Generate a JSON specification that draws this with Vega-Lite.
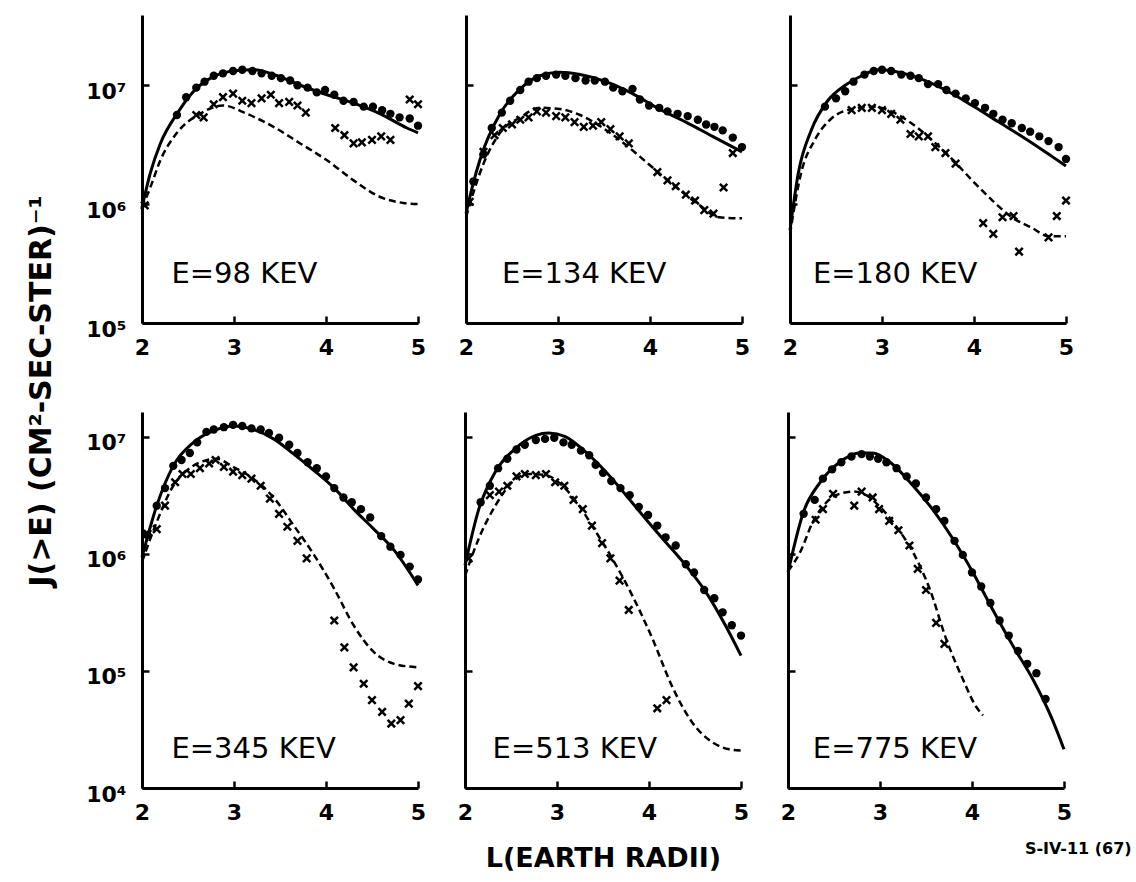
{
"$schema":"https://vega.github.io/schema/vega-lite/v6.json",
"background":"white",
"padding":{"left":26,"top":15,"right":5,"bottom":5},
"config":{"view":{"stroke":null},"axis":{"grid":false}},
"title":{"text":"J(>E) (CM²-SEC-STER)⁻¹","orient":"left","anchor":"middle","font":"DejaVu Sans","fontSize":30,"fontWeight":"bold","color":"black","offset":29,"dx":52},
"data":{"values":[
{"p":"98","s":"solid","L":2.0,"J":9.33e5},{"p":"98","s":"solid","L":2.09,"J":1.82e6},{"p":"98","s":"solid","L":2.2,"J":3.24e6},{"p":"98","s":"solid","L":2.38,"J":5.75e6},{"p":"98","s":"solid","L":2.55,"J":8.71e6},{"p":"98","s":"solid","L":2.77,"J":1.175e7},{"p":"98","s":"solid","L":2.99,"J":1.318e7},{"p":"98","s":"solid","L":3.21,"J":1.349e7},{"p":"98","s":"solid","L":3.47,"J":1.202e7},{"p":"98","s":"solid","L":3.72,"J":1.0e7},{"p":"98","s":"solid","L":4.01,"J":8.32e6},{"p":"98","s":"solid","L":4.3,"J":7.08e6},{"p":"98","s":"solid","L":4.59,"J":5.75e6},{"p":"98","s":"solid","L":4.88,"J":4.37e6},{"p":"98","s":"solid","L":5.0,"J":3.98e6},
{"p":"98","s":"dash","L":2.0,"J":9.33e5},{"p":"98","s":"dash","L":2.09,"J":1.38e6},{"p":"98","s":"dash","L":2.2,"J":2.34e6},{"p":"98","s":"dash","L":2.38,"J":3.98e6},{"p":"98","s":"dash","L":2.63,"J":5.75e6},{"p":"98","s":"dash","L":2.88,"J":6.76e6},{"p":"98","s":"dash","L":3.14,"J":5.75e6},{"p":"98","s":"dash","L":3.43,"J":4.47e6},{"p":"98","s":"dash","L":3.72,"J":3.24e6},{"p":"98","s":"dash","L":4.01,"J":2.34e6},{"p":"98","s":"dash","L":4.3,"J":1.585e6},{"p":"98","s":"dash","L":4.59,"J":1.148e6},{"p":"98","s":"dash","L":4.84,"J":1.023e6},{"p":"98","s":"dash","L":5.0,"J":1.0e6},
{"p":"98","s":"dot","L":2.38,"J":5.62e6},{"p":"98","s":"dot","L":2.48,"J":7.94e6},{"p":"98","s":"dot","L":2.59,"J":9.55e6},{"p":"98","s":"dot","L":2.68,"J":1.072e7},{"p":"98","s":"dot","L":2.78,"J":1.202e7},{"p":"98","s":"dot","L":2.88,"J":1.259e7},{"p":"98","s":"dot","L":2.99,"J":1.318e7},{"p":"98","s":"dot","L":3.09,"J":1.349e7},{"p":"98","s":"dot","L":3.2,"J":1.318e7},{"p":"98","s":"dot","L":3.3,"J":1.259e7},{"p":"98","s":"dot","L":3.41,"J":1.202e7},{"p":"98","s":"dot","L":3.51,"J":1.148e7},{"p":"98","s":"dot","L":3.61,"J":1.096e7},{"p":"98","s":"dot","L":3.69,"J":1.0e7},{"p":"98","s":"dot","L":3.8,"J":9.55e6},{"p":"98","s":"dot","L":3.9,"J":8.71e6},{"p":"98","s":"dot","L":3.99,"J":9.12e6},{"p":"98","s":"dot","L":4.09,"J":8.32e6},{"p":"98","s":"dot","L":4.19,"J":7.41e6},{"p":"98","s":"dot","L":4.3,"J":7.24e6},{"p":"98","s":"dot","L":4.41,"J":6.61e6},{"p":"98","s":"dot","L":4.51,"J":6.61e6},{"p":"98","s":"dot","L":4.61,"J":6.17e6},{"p":"98","s":"dot","L":4.7,"J":5.75e6},{"p":"98","s":"dot","L":4.8,"J":5.37e6},{"p":"98","s":"dot","L":4.91,"J":5.25e6},{"p":"98","s":"dot","L":5.0,"J":4.57e6},
{"p":"98","s":"x","L":2.03,"J":9.77e5},{"p":"98","s":"x","L":2.59,"J":5.62e6},{"p":"98","s":"x","L":2.67,"J":5.37e6},{"p":"98","s":"x","L":2.78,"J":6.92e6},{"p":"98","s":"x","L":2.88,"J":7.94e6},{"p":"98","s":"x","L":2.99,"J":8.51e6},{"p":"98","s":"x","L":3.09,"J":7.41e6},{"p":"98","s":"x","L":3.19,"J":7.08e6},{"p":"98","s":"x","L":3.3,"J":7.76e6},{"p":"98","s":"x","L":3.4,"J":8.32e6},{"p":"98","s":"x","L":3.49,"J":7.08e6},{"p":"98","s":"x","L":3.6,"J":7.24e6},{"p":"98","s":"x","L":3.69,"J":6.76e6},{"p":"98","s":"x","L":3.78,"J":5.89e6},{"p":"98","s":"x","L":4.1,"J":4.37e6},{"p":"98","s":"x","L":4.2,"J":3.8e6},{"p":"98","s":"x","L":4.3,"J":3.24e6},{"p":"98","s":"x","L":4.39,"J":3.31e6},{"p":"98","s":"x","L":4.5,"J":3.47e6},{"p":"98","s":"x","L":4.6,"J":3.72e6},{"p":"98","s":"x","L":4.7,"J":3.47e6},{"p":"98","s":"x","L":4.91,"J":7.59e6},{"p":"98","s":"x","L":5.0,"J":6.92e6},
{"p":"134","s":"solid","L":2.0,"J":8.32e5},{"p":"134","s":"solid","L":2.07,"J":1.41e6},{"p":"134","s":"solid","L":2.15,"J":2.34e6},{"p":"134","s":"solid","L":2.37,"J":5.75e6},{"p":"134","s":"solid","L":2.59,"J":9.33e6},{"p":"134","s":"solid","L":2.8,"J":1.202e7},{"p":"134","s":"solid","L":3.02,"J":1.288e7},{"p":"134","s":"solid","L":3.24,"J":1.23e7},{"p":"134","s":"solid","L":3.52,"J":1.072e7},{"p":"134","s":"solid","L":3.81,"J":8.51e6},{"p":"134","s":"solid","L":4.1,"J":6.31e6},{"p":"134","s":"solid","L":4.39,"J":4.9e6},{"p":"134","s":"solid","L":4.68,"J":3.72e6},{"p":"134","s":"solid","L":5.0,"J":2.75e6},
{"p":"134","s":"dash","L":2.0,"J":7.76e5},{"p":"134","s":"dash","L":2.19,"J":2.19e6},{"p":"134","s":"dash","L":2.37,"J":3.98e6},{"p":"134","s":"dash","L":2.59,"J":5.37e6},{"p":"134","s":"dash","L":2.8,"J":6.46e6},{"p":"134","s":"dash","L":3.02,"J":6.31e6},{"p":"134","s":"dash","L":3.24,"J":5.62e6},{"p":"134","s":"dash","L":3.45,"J":4.57e6},{"p":"134","s":"dash","L":3.67,"J":3.47e6},{"p":"134","s":"dash","L":3.89,"J":2.51e6},{"p":"134","s":"dash","L":4.1,"J":1.82e6},{"p":"134","s":"dash","L":4.32,"J":1.318e6},{"p":"134","s":"dash","L":4.54,"J":9.77e5},{"p":"134","s":"dash","L":4.75,"J":7.76e5},{"p":"134","s":"dash","L":5.0,"J":7.59e5},
{"p":"134","s":"dot","L":2.08,"J":1.549e6},{"p":"134","s":"dot","L":2.19,"J":2.63e6},{"p":"134","s":"dot","L":2.28,"J":4.37e6},{"p":"134","s":"dot","L":2.39,"J":5.89e6},{"p":"134","s":"dot","L":2.48,"J":7.41e6},{"p":"134","s":"dot","L":2.59,"J":9.12e6},{"p":"134","s":"dot","L":2.68,"J":1.072e7},{"p":"134","s":"dot","L":2.77,"J":1.148e7},{"p":"134","s":"dot","L":2.87,"J":1.202e7},{"p":"134","s":"dot","L":2.98,"J":1.23e7},{"p":"134","s":"dot","L":3.08,"J":1.202e7},{"p":"134","s":"dot","L":3.19,"J":1.148e7},{"p":"134","s":"dot","L":3.3,"J":1.096e7},{"p":"134","s":"dot","L":3.4,"J":1.096e7},{"p":"134","s":"dot","L":3.51,"J":1.072e7},{"p":"134","s":"dot","L":3.6,"J":9.55e6},{"p":"134","s":"dot","L":3.7,"J":8.91e6},{"p":"134","s":"dot","L":3.81,"J":9.33e6},{"p":"134","s":"dot","L":3.89,"J":7.59e6},{"p":"134","s":"dot","L":3.99,"J":6.76e6},{"p":"134","s":"dot","L":4.1,"J":6.46e6},{"p":"134","s":"dot","L":4.19,"J":6.03e6},{"p":"134","s":"dot","L":4.3,"J":5.75e6},{"p":"134","s":"dot","L":4.41,"J":5.5e6},{"p":"134","s":"dot","L":4.52,"J":5.13e6},{"p":"134","s":"dot","L":4.61,"J":4.68e6},{"p":"134","s":"dot","L":4.7,"J":4.47e6},{"p":"134","s":"dot","L":4.79,"J":4.17e6},{"p":"134","s":"dot","L":4.9,"J":3.63e6},{"p":"134","s":"dot","L":5.0,"J":3.02e6},
{"p":"134","s":"x","L":2.04,"J":1.047e6},{"p":"134","s":"x","L":2.19,"J":2.75e6},{"p":"134","s":"x","L":2.31,"J":3.8e6},{"p":"134","s":"x","L":2.4,"J":4.37e6},{"p":"134","s":"x","L":2.5,"J":4.68e6},{"p":"134","s":"x","L":2.59,"J":5.13e6},{"p":"134","s":"x","L":2.68,"J":5.37e6},{"p":"134","s":"x","L":2.77,"J":6.03e6},{"p":"134","s":"x","L":2.87,"J":5.89e6},{"p":"134","s":"x","L":2.98,"J":5.5e6},{"p":"134","s":"x","L":3.08,"J":5.37e6},{"p":"134","s":"x","L":3.18,"J":4.9e6},{"p":"134","s":"x","L":3.28,"J":4.47e6},{"p":"134","s":"x","L":3.38,"J":4.57e6},{"p":"134","s":"x","L":3.47,"J":4.9e6},{"p":"134","s":"x","L":3.57,"J":4.27e6},{"p":"134","s":"x","L":3.67,"J":3.72e6},{"p":"134","s":"x","L":3.77,"J":3.24e6},{"p":"134","s":"x","L":4.08,"J":1.862e6},{"p":"134","s":"x","L":4.19,"J":1.585e6},{"p":"134","s":"x","L":4.28,"J":1.413e6},{"p":"134","s":"x","L":4.39,"J":1.202e6},{"p":"134","s":"x","L":4.49,"J":1.072e6},{"p":"134","s":"x","L":4.59,"J":8.91e5},{"p":"134","s":"x","L":4.69,"J":8.32e5},{"p":"134","s":"x","L":4.8,"J":1.38e6},{"p":"134","s":"x","L":4.9,"J":2.69e6},
{"p":"180","s":"solid","L":2.0,"J":6.03e5},{"p":"180","s":"solid","L":2.09,"J":1.82e6},{"p":"180","s":"solid","L":2.23,"J":4.17e6},{"p":"180","s":"solid","L":2.41,"J":7.41e6},{"p":"180","s":"solid","L":2.6,"J":1.0e7},{"p":"180","s":"solid","L":2.78,"J":1.202e7},{"p":"180","s":"solid","L":2.96,"J":1.349e7},{"p":"180","s":"solid","L":3.18,"J":1.288e7},{"p":"180","s":"solid","L":3.4,"J":1.148e7},{"p":"180","s":"solid","L":3.69,"J":9.12e6},{"p":"180","s":"solid","L":3.98,"J":6.76e6},{"p":"180","s":"solid","L":4.27,"J":4.9e6},{"p":"180","s":"solid","L":4.56,"J":3.55e6},{"p":"180","s":"solid","L":4.85,"J":2.51e6},{"p":"180","s":"solid","L":5.0,"J":2.09e6},
{"p":"180","s":"dash","L":2.0,"J":5.62e5},{"p":"180","s":"dash","L":2.12,"J":1.82e6},{"p":"180","s":"dash","L":2.27,"J":3.47e6},{"p":"180","s":"dash","L":2.45,"J":5.25e6},{"p":"180","s":"dash","L":2.67,"J":6.31e6},{"p":"180","s":"dash","L":2.89,"J":6.61e6},{"p":"180","s":"dash","L":3.1,"J":6.03e6},{"p":"180","s":"dash","L":3.32,"J":4.79e6},{"p":"180","s":"dash","L":3.54,"J":3.47e6},{"p":"180","s":"dash","L":3.76,"J":2.4e6},{"p":"180","s":"dash","L":3.98,"J":1.585e6},{"p":"180","s":"dash","L":4.2,"J":1.072e6},{"p":"180","s":"dash","L":4.41,"J":7.76e5},{"p":"180","s":"dash","L":4.63,"J":6.31e5},{"p":"180","s":"dash","L":4.81,"J":5.37e5},{"p":"180","s":"dash","L":5.0,"J":5.37e5},
{"p":"180","s":"dot","L":2.38,"J":6.61e6},{"p":"180","s":"dot","L":2.5,"J":7.76e6},{"p":"180","s":"dot","L":2.6,"J":8.91e6},{"p":"180","s":"dot","L":2.69,"J":1.072e7},{"p":"180","s":"dot","L":2.81,"J":1.23e7},{"p":"180","s":"dot","L":2.91,"J":1.318e7},{"p":"180","s":"dot","L":3.0,"J":1.349e7},{"p":"180","s":"dot","L":3.1,"J":1.318e7},{"p":"180","s":"dot","L":3.21,"J":1.23e7},{"p":"180","s":"dot","L":3.31,"J":1.202e7},{"p":"180","s":"dot","L":3.4,"J":1.148e7},{"p":"180","s":"dot","L":3.5,"J":1.023e7},{"p":"180","s":"dot","L":3.61,"J":1.023e7},{"p":"180","s":"dot","L":3.7,"J":9.12e6},{"p":"180","s":"dot","L":3.8,"J":8.51e6},{"p":"180","s":"dot","L":3.91,"J":7.76e6},{"p":"180","s":"dot","L":4.01,"J":7.08e6},{"p":"180","s":"dot","L":4.12,"J":6.46e6},{"p":"180","s":"dot","L":4.21,"J":5.75e6},{"p":"180","s":"dot","L":4.31,"J":5.13e6},{"p":"180","s":"dot","L":4.41,"J":4.79e6},{"p":"180","s":"dot","L":4.52,"J":4.37e6},{"p":"180","s":"dot","L":4.61,"J":4.07e6},{"p":"180","s":"dot","L":4.71,"J":3.72e6},{"p":"180","s":"dot","L":4.81,"J":3.39e6},{"p":"180","s":"dot","L":4.92,"J":3.02e6},{"p":"180","s":"dot","L":5.0,"J":2.4e6},
{"p":"180","s":"x","L":2.67,"J":6.17e6},{"p":"180","s":"x","L":2.78,"J":6.46e6},{"p":"180","s":"x","L":2.89,"J":6.46e6},{"p":"180","s":"x","L":3.0,"J":6.17e6},{"p":"180","s":"x","L":3.1,"J":5.75e6},{"p":"180","s":"x","L":3.2,"J":5.13e6},{"p":"180","s":"x","L":3.31,"J":3.89e6},{"p":"180","s":"x","L":3.4,"J":3.72e6},{"p":"180","s":"x","L":3.5,"J":3.72e6},{"p":"180","s":"x","L":3.58,"J":3.02e6},{"p":"180","s":"x","L":3.69,"J":2.69e6},{"p":"180","s":"x","L":3.8,"J":2.19e6},{"p":"180","s":"x","L":4.1,"J":6.92e5},{"p":"180","s":"x","L":4.21,"J":5.62e5},{"p":"180","s":"x","L":4.31,"J":7.76e5},{"p":"180","s":"x","L":4.43,"J":7.94e5},{"p":"180","s":"x","L":4.49,"J":3.98e5},{"p":"180","s":"x","L":4.81,"J":5.25e5},{"p":"180","s":"x","L":4.9,"J":7.94e5},{"p":"180","s":"x","L":5.0,"J":1.072e6},
{"p":"345","s":"solid","L":2.0,"J":9.33e5},{"p":"345","s":"solid","L":2.16,"J":2.57e6},{"p":"345","s":"solid","L":2.34,"J":5.62e6},{"p":"345","s":"solid","L":2.56,"J":8.91e6},{"p":"345","s":"solid","L":2.78,"J":1.122e7},{"p":"345","s":"solid","L":3.0,"J":1.23e7},{"p":"345","s":"solid","L":3.21,"J":1.148e7},{"p":"345","s":"solid","L":3.43,"J":9.55e6},{"p":"345","s":"solid","L":3.65,"J":7.08e6},{"p":"345","s":"solid","L":3.87,"J":5.13e6},{"p":"345","s":"solid","L":4.09,"J":3.63e6},{"p":"345","s":"solid","L":4.3,"J":2.4e6},{"p":"345","s":"solid","L":4.52,"J":1.622e6},{"p":"345","s":"solid","L":4.74,"J":1.072e6},{"p":"345","s":"solid","L":5.0,"J":5.37e5},
{"p":"345","s":"dash","L":2.0,"J":8.51e5},{"p":"345","s":"dash","L":2.16,"J":1.862e6},{"p":"345","s":"dash","L":2.34,"J":3.8e6},{"p":"345","s":"dash","L":2.52,"J":5.37e6},{"p":"345","s":"dash","L":2.71,"J":6.31e6},{"p":"345","s":"dash","L":2.81,"J":6.46e6},{"p":"345","s":"dash","L":2.99,"J":5.5e6},{"p":"345","s":"dash","L":3.21,"J":4.37e6},{"p":"345","s":"dash","L":3.43,"J":3.02e6},{"p":"345","s":"dash","L":3.65,"J":1.738e6},{"p":"345","s":"dash","L":3.87,"J":9.77e5},{"p":"345","s":"dash","L":4.09,"J":5.01e5},{"p":"345","s":"dash","L":4.3,"J":2.45e5},{"p":"345","s":"dash","L":4.52,"J":1.445e5},{"p":"345","s":"dash","L":4.74,"J":1.148e5},{"p":"345","s":"dash","L":5.0,"J":1.072e5},
{"p":"345","s":"dot","L":2.06,"J":1.445e6},{"p":"345","s":"dot","L":2.16,"J":2.57e6},{"p":"345","s":"dot","L":2.25,"J":3.63e6},{"p":"345","s":"dot","L":2.34,"J":5.62e6},{"p":"345","s":"dot","L":2.43,"J":6.31e6},{"p":"345","s":"dot","L":2.52,"J":7.24e6},{"p":"345","s":"dot","L":2.6,"J":8.91e6},{"p":"345","s":"dot","L":2.7,"J":1.096e7},{"p":"345","s":"dot","L":2.78,"J":1.148e7},{"p":"345","s":"dot","L":2.89,"J":1.202e7},{"p":"345","s":"dot","L":2.99,"J":1.259e7},{"p":"345","s":"dot","L":3.09,"J":1.23e7},{"p":"345","s":"dot","L":3.19,"J":1.175e7},{"p":"345","s":"dot","L":3.29,"J":1.148e7},{"p":"345","s":"dot","L":3.38,"J":1.072e7},{"p":"345","s":"dot","L":3.49,"J":9.77e6},{"p":"345","s":"dot","L":3.6,"J":8.51e6},{"p":"345","s":"dot","L":3.69,"J":7.24e6},{"p":"345","s":"dot","L":3.8,"J":6.03e6},{"p":"345","s":"dot","L":3.9,"J":5.37e6},{"p":"345","s":"dot","L":4.0,"J":4.57e6},{"p":"345","s":"dot","L":4.09,"J":3.63e6},{"p":"345","s":"dot","L":4.19,"J":3.02e6},{"p":"345","s":"dot","L":4.28,"J":2.75e6},{"p":"345","s":"dot","L":4.38,"J":2.4e6},{"p":"345","s":"dot","L":4.48,"J":2.04e6},{"p":"345","s":"dot","L":4.6,"J":1.413e6},{"p":"345","s":"dot","L":4.7,"J":1.148e6},{"p":"345","s":"dot","L":4.81,"J":9.77e5},{"p":"345","s":"dot","L":4.91,"J":7.76e5},{"p":"345","s":"dot","L":5.0,"J":6.03e5},
{"p":"345","s":"x","L":2.06,"J":1.479e6},{"p":"345","s":"x","L":2.16,"J":1.622e6},{"p":"345","s":"x","L":2.25,"J":2.57e6},{"p":"345","s":"x","L":2.36,"J":4.07e6},{"p":"345","s":"x","L":2.44,"J":4.79e6},{"p":"345","s":"x","L":2.53,"J":4.79e6},{"p":"345","s":"x","L":2.63,"J":5.37e6},{"p":"345","s":"x","L":2.73,"J":5.89e6},{"p":"345","s":"x","L":2.8,"J":6.31e6},{"p":"345","s":"x","L":2.89,"J":5.5e6},{"p":"345","s":"x","L":2.99,"J":5.01e6},{"p":"345","s":"x","L":3.09,"J":4.68e6},{"p":"345","s":"x","L":3.19,"J":4.37e6},{"p":"345","s":"x","L":3.29,"J":3.8e6},{"p":"345","s":"x","L":3.39,"J":2.95e6},{"p":"345","s":"x","L":3.49,"J":2.19e6},{"p":"345","s":"x","L":3.58,"J":1.698e6},{"p":"345","s":"x","L":3.69,"J":1.288e6},{"p":"345","s":"x","L":3.79,"J":9.12e5},{"p":"345","s":"x","L":4.09,"J":2.69e5},{"p":"345","s":"x","L":4.2,"J":1.585e5},{"p":"345","s":"x","L":4.3,"J":1.072e5},{"p":"345","s":"x","L":4.41,"J":7.76e4},{"p":"345","s":"x","L":4.5,"J":5.62e4},{"p":"345","s":"x","L":4.61,"J":4.47e4},{"p":"345","s":"x","L":4.71,"J":3.55e4},{"p":"345","s":"x","L":4.81,"J":3.8e4},{"p":"345","s":"x","L":4.9,"J":5.25e4},{"p":"345","s":"x","L":5.0,"J":7.41e4},
{"p":"513","s":"solid","L":2.0,"J":7.94e5},{"p":"513","s":"solid","L":2.15,"J":2.4e6},{"p":"513","s":"solid","L":2.33,"J":5.01e6},{"p":"513","s":"solid","L":2.55,"J":7.94e6},{"p":"513","s":"solid","L":2.77,"J":1.023e7},{"p":"513","s":"solid","L":2.91,"J":1.072e7},{"p":"513","s":"solid","L":3.09,"J":1.0e7},{"p":"513","s":"solid","L":3.31,"J":7.41e6},{"p":"513","s":"solid","L":3.53,"J":5.01e6},{"p":"513","s":"solid","L":3.75,"J":3.16e6},{"p":"513","s":"solid","L":3.96,"J":2.0e6},{"p":"513","s":"solid","L":4.18,"J":1.259e6},{"p":"513","s":"solid","L":4.4,"J":7.94e5},{"p":"513","s":"solid","L":4.62,"J":4.68e5},{"p":"513","s":"solid","L":4.83,"J":2.45e5},{"p":"513","s":"solid","L":5.0,"J":1.349e5},
{"p":"513","s":"dash","L":2.0,"J":6.46e5},{"p":"513","s":"dash","L":2.15,"J":1.349e6},{"p":"513","s":"dash","L":2.33,"J":2.57e6},{"p":"513","s":"dash","L":2.51,"J":4.07e6},{"p":"513","s":"dash","L":2.7,"J":4.79e6},{"p":"513","s":"dash","L":2.88,"J":4.68e6},{"p":"513","s":"dash","L":3.06,"J":3.8e6},{"p":"513","s":"dash","L":3.24,"J":2.57e6},{"p":"513","s":"dash","L":3.42,"J":1.549e6},{"p":"513","s":"dash","L":3.6,"J":9.12e5},{"p":"513","s":"dash","L":3.82,"J":4.37e5},{"p":"513","s":"dash","L":4.04,"J":1.862e5},{"p":"513","s":"dash","L":4.25,"J":7.41e4},{"p":"513","s":"dash","L":4.47,"J":3.63e4},{"p":"513","s":"dash","L":4.69,"J":2.45e4},{"p":"513","s":"dash","L":4.87,"J":2.14e4},{"p":"513","s":"dash","L":5.0,"J":2.09e4},
{"p":"513","s":"dot","L":2.17,"J":2.75e6},{"p":"513","s":"dot","L":2.27,"J":3.8e6},{"p":"513","s":"dot","L":2.36,"J":5.37e6},{"p":"513","s":"dot","L":2.46,"J":6.46e6},{"p":"513","s":"dot","L":2.56,"J":7.76e6},{"p":"513","s":"dot","L":2.65,"J":8.51e6},{"p":"513","s":"dot","L":2.77,"J":9.33e6},{"p":"513","s":"dot","L":2.87,"J":9.55e6},{"p":"513","s":"dot","L":2.97,"J":9.77e6},{"p":"513","s":"dot","L":3.07,"J":8.91e6},{"p":"513","s":"dot","L":3.16,"J":8.51e6},{"p":"513","s":"dot","L":3.26,"J":7.59e6},{"p":"513","s":"dot","L":3.35,"J":6.92e6},{"p":"513","s":"dot","L":3.42,"J":5.75e6},{"p":"513","s":"dot","L":3.5,"J":4.9e6},{"p":"513","s":"dot","L":3.59,"J":4.17e6},{"p":"513","s":"dot","L":3.69,"J":3.63e6},{"p":"513","s":"dot","L":3.79,"J":3.16e6},{"p":"513","s":"dot","L":3.89,"J":2.51e6},{"p":"513","s":"dot","L":3.99,"J":2.14e6},{"p":"513","s":"dot","L":4.09,"J":1.738e6},{"p":"513","s":"dot","L":4.18,"J":1.38e6},{"p":"513","s":"dot","L":4.29,"J":1.175e6},{"p":"513","s":"dot","L":4.4,"J":8.13e5},{"p":"513","s":"dot","L":4.49,"J":6.92e5},{"p":"513","s":"dot","L":4.6,"J":4.9e5},{"p":"513","s":"dot","L":4.71,"J":4.17e5},{"p":"513","s":"dot","L":4.8,"J":3.16e5},{"p":"513","s":"dot","L":4.9,"J":2.45e5},{"p":"513","s":"dot","L":5.0,"J":2.0e5},
{"p":"513","s":"x","L":2.04,"J":9.12e5},{"p":"513","s":"x","L":2.27,"J":3.16e6},{"p":"513","s":"x","L":2.37,"J":3.39e6},{"p":"513","s":"x","L":2.46,"J":3.8e6},{"p":"513","s":"x","L":2.56,"J":4.57e6},{"p":"513","s":"x","L":2.65,"J":4.79e6},{"p":"513","s":"x","L":2.77,"J":4.68e6},{"p":"513","s":"x","L":2.88,"J":4.79e6},{"p":"513","s":"x","L":2.98,"J":4.07e6},{"p":"513","s":"x","L":3.08,"J":3.8e6},{"p":"513","s":"x","L":3.18,"J":2.88e6},{"p":"513","s":"x","L":3.28,"J":2.4e6},{"p":"513","s":"x","L":3.38,"J":1.738e6},{"p":"513","s":"x","L":3.49,"J":1.23e6},{"p":"513","s":"x","L":3.58,"J":9.12e5},{"p":"513","s":"x","L":3.68,"J":5.89e5},{"p":"513","s":"x","L":3.78,"J":3.31e5},{"p":"513","s":"x","L":4.09,"J":4.79e4},{"p":"513","s":"x","L":4.19,"J":5.62e4},
{"p":"775","s":"solid","L":2.0,"J":6.92e5},{"p":"775","s":"solid","L":2.17,"J":2.29e6},{"p":"775","s":"solid","L":2.35,"J":4.07e6},{"p":"775","s":"solid","L":2.56,"J":6.03e6},{"p":"775","s":"solid","L":2.78,"J":7.24e6},{"p":"775","s":"solid","L":2.92,"J":7.24e6},{"p":"775","s":"solid","L":3.11,"J":6.03e6},{"p":"775","s":"solid","L":3.36,"J":3.8e6},{"p":"775","s":"solid","L":3.57,"J":2.4e6},{"p":"775","s":"solid","L":3.79,"J":1.349e6},{"p":"775","s":"solid","L":4.01,"J":6.92e5},{"p":"775","s":"solid","L":4.22,"J":3.39e5},{"p":"775","s":"solid","L":4.44,"J":1.66e5},{"p":"775","s":"solid","L":4.66,"J":8.51e4},{"p":"775","s":"solid","L":4.87,"J":3.89e4},{"p":"775","s":"solid","L":5.0,"J":2.14e4},
{"p":"775","s":"dash","L":2.0,"J":7.08e5},{"p":"775","s":"dash","L":2.13,"J":1.023e6},{"p":"775","s":"dash","L":2.27,"J":1.862e6},{"p":"775","s":"dash","L":2.42,"J":2.75e6},{"p":"775","s":"dash","L":2.56,"J":3.24e6},{"p":"775","s":"dash","L":2.71,"J":3.39e6},{"p":"775","s":"dash","L":2.85,"J":3.16e6},{"p":"775","s":"dash","L":3.0,"J":2.51e6},{"p":"775","s":"dash","L":3.18,"J":1.698e6},{"p":"775","s":"dash","L":3.36,"J":1.023e6},{"p":"775","s":"dash","L":3.54,"J":5.01e5},{"p":"775","s":"dash","L":3.72,"J":1.862e5},{"p":"775","s":"dash","L":3.9,"J":8.51e4},{"p":"775","s":"dash","L":4.04,"J":5.01e4},{"p":"775","s":"dash","L":4.12,"J":4.17e4},
{"p":"775","s":"dot","L":2.17,"J":2.19e6},{"p":"775","s":"dot","L":2.29,"J":2.88e6},{"p":"775","s":"dot","L":2.38,"J":4.37e6},{"p":"775","s":"dot","L":2.48,"J":5.25e6},{"p":"775","s":"dot","L":2.58,"J":6.03e6},{"p":"775","s":"dot","L":2.69,"J":6.76e6},{"p":"775","s":"dot","L":2.8,"J":7.08e6},{"p":"775","s":"dot","L":2.89,"J":6.76e6},{"p":"775","s":"dot","L":2.98,"J":6.46e6},{"p":"775","s":"dot","L":3.07,"J":6.03e6},{"p":"775","s":"dot","L":3.18,"J":5.37e6},{"p":"775","s":"dot","L":3.29,"J":4.57e6},{"p":"775","s":"dot","L":3.39,"J":3.98e6},{"p":"775","s":"dot","L":3.5,"J":3.02e6},{"p":"775","s":"dot","L":3.61,"J":2.4e6},{"p":"775","s":"dot","L":3.7,"J":1.905e6},{"p":"775","s":"dot","L":3.81,"J":1.288e6},{"p":"775","s":"dot","L":3.9,"J":9.77e5},{"p":"775","s":"dot","L":4.0,"J":6.92e5},{"p":"775","s":"dot","L":4.1,"J":5.25e5},{"p":"775","s":"dot","L":4.2,"J":3.8e5},{"p":"775","s":"dot","L":4.3,"J":2.69e5},{"p":"775","s":"dot","L":4.4,"J":2.0e5},{"p":"775","s":"dot","L":4.5,"J":1.479e5},{"p":"775","s":"dot","L":4.6,"J":1.148e5},{"p":"775","s":"dot","L":4.7,"J":9.55e4},{"p":"775","s":"dot","L":4.8,"J":5.75e4},
{"p":"775","s":"x","L":2.3,"J":1.95e6},{"p":"775","s":"x","L":2.38,"J":2.4e6},{"p":"775","s":"x","L":2.49,"J":3.24e6},{"p":"775","s":"x","L":2.72,"J":2.57e6},{"p":"775","s":"x","L":2.8,"J":3.39e6},{"p":"775","s":"x","L":2.92,"J":3.02e6},{"p":"775","s":"x","L":2.99,"J":2.4e6},{"p":"775","s":"x","L":3.1,"J":1.905e6},{"p":"775","s":"x","L":3.2,"J":1.585e6},{"p":"775","s":"x","L":3.32,"J":1.175e6},{"p":"775","s":"x","L":3.41,"J":7.41e5},{"p":"775","s":"x","L":3.5,"J":4.9e5},{"p":"775","s":"x","L":3.61,"J":2.57e5},{"p":"775","s":"x","L":3.7,"J":1.698e5}
]},
"spacing":54,
"vconcat":[
{"bounds":"flush","spacing":48,"hconcat":[
{"width":276,"height":308,"transform":[{"filter":"datum.p=='98'"}],
"encoding":{"x":{"field":"L","type":"quantitative","scale":{"domain":[2,5],"nice":false,"zero":false},"axis":{"values":[2,3,4,5],"format":"d","title":null,"tickSize":-7,"tickWidth":2.5,"tickColor":"black","labelPadding":21,"labelFont":"DejaVu Sans","labelFontWeight":"bold","labelFontSize":22,"labelColor":"black","domainColor":"black","domainWidth":3,"labelOverlap":false,"labelFlush":false}},
"y":{"field":"J","type":"quantitative","scale":{"type":"log","domain":[1e5,3.9e7],"nice":false},"axis":{"values":[1e5,1e6,1e7],"labelExpr":"'10' + (datum.value > 5e6 ? '⁷' : datum.value > 5e5 ? '⁶' : datum.value > 5e4 ? '⁵' : '⁴')","title":null,"tickSize":-7,"tickWidth":2.5,"tickColor":"black","labelPadding":23,"labelOffset":6,"labelFont":"DejaVu Sans","labelFontWeight":"bold","labelFontSize":22,"labelColor":"black","domainColor":"black","domainWidth":3,"labelOverlap":false,"labelFlush":false}}},
"layer":[
{"transform":[{"filter":"datum.s=='solid'"}],"mark":{"type":"line","stroke":"black","strokeWidth":3,"interpolate":"monotone"}},
{"transform":[{"filter":"datum.s=='dash'"}],"mark":{"type":"line","stroke":"black","strokeWidth":2.5,"strokeDash":[7,4],"interpolate":"monotone"}},
{"transform":[{"filter":"datum.s=='dot'"}],"mark":{"type":"point","shape":"circle","filled":true,"color":"black","size":70,"opacity":1}},
{"transform":[{"filter":"datum.s=='x'"}],"mark":{"type":"point","shape":"M-1,-1L1,1M1,-1L-1,1","filled":false,"color":"black","strokeWidth":2.5,"size":55,"opacity":1}},
{"transform":[{"filter":"datum.s=='solid' && datum.L==2"}],"mark":{"type":"text","align":"left","baseline":"middle","font":"DejaVu Sans","fontSize":29,"color":"black"},"encoding":{"x":{"datum":2.32},"y":{"datum":2.6e5},"text":{"value":"E=98 KEV"}}}
]},
{"width":276,"height":308,"transform":[{"filter":"datum.p=='134'"}],
"encoding":{"x":{"field":"L","type":"quantitative","scale":{"domain":[2,5],"nice":false,"zero":false},"axis":{"values":[2,3,4,5],"format":"d","title":null,"tickSize":-7,"tickWidth":2.5,"tickColor":"black","labelPadding":21,"labelFont":"DejaVu Sans","labelFontWeight":"bold","labelFontSize":22,"labelColor":"black","domainColor":"black","domainWidth":3,"labelOverlap":false,"labelFlush":false}},
"y":{"field":"J","type":"quantitative","scale":{"type":"log","domain":[1e5,3.9e7],"nice":false},"axis":{"values":[1e5,1e6,1e7],"labels":false,"title":null,"tickSize":-7,"tickWidth":2.5,"tickColor":"black","domainColor":"black","domainWidth":3}}},
"layer":[
{"transform":[{"filter":"datum.s=='solid'"}],"mark":{"type":"line","stroke":"black","strokeWidth":3,"interpolate":"monotone"}},
{"transform":[{"filter":"datum.s=='dash'"}],"mark":{"type":"line","stroke":"black","strokeWidth":2.5,"strokeDash":[7,4],"interpolate":"monotone"}},
{"transform":[{"filter":"datum.s=='dot'"}],"mark":{"type":"point","shape":"circle","filled":true,"color":"black","size":70,"opacity":1}},
{"transform":[{"filter":"datum.s=='x'"}],"mark":{"type":"point","shape":"M-1,-1L1,1M1,-1L-1,1","filled":false,"color":"black","strokeWidth":2.5,"size":55,"opacity":1}},
{"transform":[{"filter":"datum.s=='solid' && datum.L==2"}],"mark":{"type":"text","align":"left","baseline":"middle","font":"DejaVu Sans","fontSize":29,"color":"black"},"encoding":{"x":{"datum":2.39},"y":{"datum":2.6e5},"text":{"value":"E=134 KEV"}}}
]},
{"width":276,"height":308,"transform":[{"filter":"datum.p=='180'"}],
"encoding":{"x":{"field":"L","type":"quantitative","scale":{"domain":[2,5],"nice":false,"zero":false},"axis":{"values":[2,3,4,5],"format":"d","title":null,"tickSize":-7,"tickWidth":2.5,"tickColor":"black","labelPadding":21,"labelFont":"DejaVu Sans","labelFontWeight":"bold","labelFontSize":22,"labelColor":"black","domainColor":"black","domainWidth":3,"labelOverlap":false,"labelFlush":false}},
"y":{"field":"J","type":"quantitative","scale":{"type":"log","domain":[1e5,3.9e7],"nice":false},"axis":{"values":[1e5,1e6,1e7],"labels":false,"title":null,"tickSize":-7,"tickWidth":2.5,"tickColor":"black","domainColor":"black","domainWidth":3}}},
"layer":[
{"transform":[{"filter":"datum.s=='solid'"}],"mark":{"type":"line","stroke":"black","strokeWidth":3,"interpolate":"monotone"}},
{"transform":[{"filter":"datum.s=='dash'"}],"mark":{"type":"line","stroke":"black","strokeWidth":2.5,"strokeDash":[7,4],"interpolate":"monotone"}},
{"transform":[{"filter":"datum.s=='dot'"}],"mark":{"type":"point","shape":"circle","filled":true,"color":"black","size":70,"opacity":1}},
{"transform":[{"filter":"datum.s=='x'"}],"mark":{"type":"point","shape":"M-1,-1L1,1M1,-1L-1,1","filled":false,"color":"black","strokeWidth":2.5,"size":55,"opacity":1}},
{"transform":[{"filter":"datum.s=='solid' && datum.L==2"}],"mark":{"type":"text","align":"left","baseline":"middle","font":"DejaVu Sans","fontSize":29,"color":"black"},"encoding":{"x":{"datum":2.25},"y":{"datum":2.6e5},"text":{"value":"E=180 KEV"}}}
]}
]},
{"bounds":"flush","spacing":47,
"title":{"text":"S-IV-11 (67)","orient":"bottom","anchor":"end","font":"DejaVu Sans","fontSize":16,"fontWeight":"bold","color":"black","offset":-30,"dx":60},
"hconcat":[
{"width":276,"height":376,"transform":[{"filter":"datum.p=='345'"}],
"encoding":{"x":{"field":"L","type":"quantitative","scale":{"domain":[2,5],"nice":false,"zero":false},"axis":{"values":[2,3,4,5],"format":"d","title":null,"tickSize":-7,"tickWidth":2.5,"tickColor":"black","labelPadding":21,"labelFont":"DejaVu Sans","labelFontWeight":"bold","labelFontSize":22,"labelColor":"black","domainColor":"black","domainWidth":3,"labelOverlap":false,"labelFlush":false}},
"y":{"field":"J","type":"quantitative","scale":{"type":"log","domain":[1e4,1.62e7],"nice":false},"axis":{"values":[1e4,1e5,1e6,1e7],"labelExpr":"'10' + (datum.value > 5e6 ? '⁷' : datum.value > 5e5 ? '⁶' : datum.value > 5e4 ? '⁵' : '⁴')","title":null,"tickSize":-7,"tickWidth":2.5,"tickColor":"black","labelPadding":23,"labelOffset":6,"labelFont":"DejaVu Sans","labelFontWeight":"bold","labelFontSize":22,"labelColor":"black","domainColor":"black","domainWidth":3,"labelOverlap":false,"labelFlush":false}}},
"layer":[
{"transform":[{"filter":"datum.s=='solid'"}],"mark":{"type":"line","stroke":"black","strokeWidth":3,"interpolate":"monotone"}},
{"transform":[{"filter":"datum.s=='dash'"}],"mark":{"type":"line","stroke":"black","strokeWidth":2.5,"strokeDash":[7,4],"interpolate":"monotone"}},
{"transform":[{"filter":"datum.s=='dot'"}],"mark":{"type":"point","shape":"circle","filled":true,"color":"black","size":70,"opacity":1}},
{"transform":[{"filter":"datum.s=='x'"}],"mark":{"type":"point","shape":"M-1,-1L1,1M1,-1L-1,1","filled":false,"color":"black","strokeWidth":2.5,"size":55,"opacity":1}},
{"transform":[{"filter":"datum.s=='solid' && datum.L==2"}],"mark":{"type":"text","align":"left","baseline":"middle","font":"DejaVu Sans","fontSize":29,"color":"black"},"encoding":{"x":{"datum":2.32},"y":{"datum":2.14e4},"text":{"value":"E=345 KEV"}}}
]},
{"width":276,"height":376,"transform":[{"filter":"datum.p=='513'"}],
"encoding":{"x":{"field":"L","type":"quantitative","scale":{"domain":[2,5],"nice":false,"zero":false},"axis":{"values":[2,3,4,5],"format":"d","title":"L(EARTH RADII)","titleFont":"DejaVu Sans","titleFontSize":27,"titleFontWeight":"bold","titleColor":"black","titlePadding":22,"tickSize":-7,"tickWidth":2.5,"tickColor":"black","labelPadding":21,"labelFont":"DejaVu Sans","labelFontWeight":"bold","labelFontSize":22,"labelColor":"black","domainColor":"black","domainWidth":3,"labelOverlap":false,"labelFlush":false}},
"y":{"field":"J","type":"quantitative","scale":{"type":"log","domain":[1e4,1.62e7],"nice":false},"axis":{"values":[1e4,1e5,1e6,1e7],"labels":false,"title":null,"tickSize":-7,"tickWidth":2.5,"tickColor":"black","domainColor":"black","domainWidth":3}}},
"layer":[
{"transform":[{"filter":"datum.s=='solid'"}],"mark":{"type":"line","stroke":"black","strokeWidth":3,"interpolate":"monotone"}},
{"transform":[{"filter":"datum.s=='dash'"}],"mark":{"type":"line","stroke":"black","strokeWidth":2.5,"strokeDash":[7,4],"interpolate":"monotone"}},
{"transform":[{"filter":"datum.s=='dot'"}],"mark":{"type":"point","shape":"circle","filled":true,"color":"black","size":70,"opacity":1}},
{"transform":[{"filter":"datum.s=='x'"}],"mark":{"type":"point","shape":"M-1,-1L1,1M1,-1L-1,1","filled":false,"color":"black","strokeWidth":2.5,"size":55,"opacity":1}},
{"transform":[{"filter":"datum.s=='solid' && datum.L==2"}],"mark":{"type":"text","align":"left","baseline":"middle","font":"DejaVu Sans","fontSize":29,"color":"black"},"encoding":{"x":{"datum":2.3},"y":{"datum":2.14e4},"text":{"value":"E=513 KEV"}}}
]},
{"width":276,"height":376,"transform":[{"filter":"datum.p=='775'"}],
"encoding":{"x":{"field":"L","type":"quantitative","scale":{"domain":[2,5],"nice":false,"zero":false},"axis":{"values":[2,3,4,5],"format":"d","title":null,"tickSize":-7,"tickWidth":2.5,"tickColor":"black","labelPadding":21,"labelFont":"DejaVu Sans","labelFontWeight":"bold","labelFontSize":22,"labelColor":"black","domainColor":"black","domainWidth":3,"labelOverlap":false,"labelFlush":false}},
"y":{"field":"J","type":"quantitative","scale":{"type":"log","domain":[1e4,1.62e7],"nice":false},"axis":{"values":[1e4,1e5,1e6,1e7],"labels":false,"title":null,"tickSize":-7,"tickWidth":2.5,"tickColor":"black","domainColor":"black","domainWidth":3}}},
"layer":[
{"transform":[{"filter":"datum.s=='solid'"}],"mark":{"type":"line","stroke":"black","strokeWidth":3,"interpolate":"monotone"}},
{"transform":[{"filter":"datum.s=='dash'"}],"mark":{"type":"line","stroke":"black","strokeWidth":2.5,"strokeDash":[7,4],"interpolate":"monotone"}},
{"transform":[{"filter":"datum.s=='dot'"}],"mark":{"type":"point","shape":"circle","filled":true,"color":"black","size":70,"opacity":1}},
{"transform":[{"filter":"datum.s=='x'"}],"mark":{"type":"point","shape":"M-1,-1L1,1M1,-1L-1,1","filled":false,"color":"black","strokeWidth":2.5,"size":55,"opacity":1}},
{"transform":[{"filter":"datum.s=='solid' && datum.L==2"}],"mark":{"type":"text","align":"left","baseline":"middle","font":"DejaVu Sans","fontSize":29,"color":"black"},"encoding":{"x":{"datum":2.27},"y":{"datum":2.14e4},"text":{"value":"E=775 KEV"}}}
]}
]}
]
}
